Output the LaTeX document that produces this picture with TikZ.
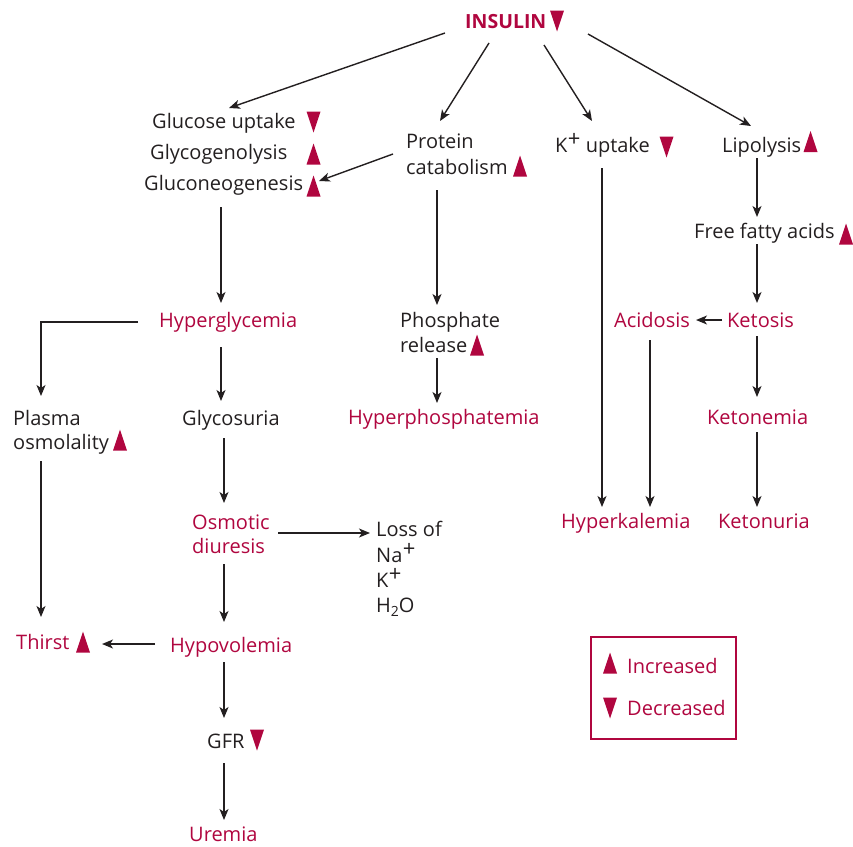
\documentclass[tikz,border=0pt]{standalone}
\usepackage{fontspec}
\setmainfont{Open Sans}
\usetikzlibrary{arrows.meta}
\definecolor{crim}{HTML}{B0063F}
\definecolor{ink}{HTML}{231F20}
\tikzset{
  txt/.style={anchor=base west, inner sep=0pt, text=ink, font=\fontsize{20}{24}\selectfont},
  rtxt/.style={txt, text=crim},
  arr/.style={draw=ink, line width=1.4pt, -{Stealth[length=11pt,width=9pt,inset=3pt]}},
  ln/.style={draw=ink, line width=1.4pt},
  pics/incr/.style={code={\fill[crim] (-7,10.5) -- (7,10.5) -- (0,-10.5) -- cycle;}},
  pics/decr/.style={code={\fill[crim] (-7,-10.5) -- (7,-10.5) -- (0,10.5) -- cycle;}}
}
\newcommand{\supplus}{\hspace{0.5pt}\raisebox{5.5pt}{\fontsize{22}{22}\selectfont +}}
\begin{document}
\begin{tikzpicture}[x=1pt,y=-1pt]
\useasboundingbox (0,0) rectangle (853,846);
% nodes
\node[rtxt, font=\fontsize{19.5}{24}\selectfont\bfseries] (ins) at (465,28) {INSULIN};
\node[txt] (gu) at (152,128) {Glucose uptake};
\node[txt] (gl) at (150,159) {Glycogenolysis};
\node[txt] (gn) at (144,190) {Gluconeogenesis};
\node[txt] (pr1) at (406,148) {Protein};
\node[txt] (pr2) at (406,174) {catabolism};
\node[txt] (ku) at (555,152) {K\supplus\ uptake};
\node[txt] (li) at (722,152) {Lipolysis};
\node[txt] (ffa) at (694,238) {Free fatty acids};
\node[rtxt] (hg) at (159,327) {Hyperglycemia};
\node[txt] (ph1) at (400,327) {Phosphate};
\node[txt] (ph2) at (400,352) {release};
\node[rtxt] (ac) at (614,327) {Acidosis};
\node[rtxt] (ke) at (727,327) {Ketosis};
\node[txt] (po1) at (13,425) {Plasma};
\node[txt] (po2) at (13,449) {osmolality};
\node[txt] (gs) at (182,425) {Glycosuria};
\node[rtxt] (hp) at (348,424) {Hyperphosphatemia};
\node[rtxt] (kn) at (707,424) {Ketonemia};
\node[rtxt] (od1) at (192,529) {Osmotic};
\node[rtxt] (od2) at (192,553) {diuresis};
\node[txt] (lo) at (376,536) {Loss of};
\node[txt] (na) at (376,562) {Na\supplus};
\node[txt] (kk) at (376,587) {K\supplus};
\node[txt] (hwo) at (376,612) {H\raisebox{-4pt}{\fontsize{14}{14}\selectfont 2}O};
\node[rtxt] (hk) at (561,528) {Hyperkalemia};
\node[rtxt] (kur) at (718,528) {Ketonuria};
\node[rtxt] (th) at (16,649) {Thirst};
\node[rtxt] (hv) at (170,652) {Hypovolemia};
\node[txt] (gfr) at (207,748) {GFR};
\node[rtxt] (ur) at (189,841) {Uremia};
% triangles
\pic at (557,21) {decr};
\pic at (313.5,122) {decr};
\pic at (313.5,154) {incr};
\pic at (313.5,186) {incr};
\pic at (520,166) {incr};
\pic at (666.5,147) {decr};
\pic at (810.5,141.5) {incr};
\pic at (846,234) {incr};
\pic at (120,440) {incr};
\pic at (477,345) {incr};
\pic at (83,642) {incr};
\pic at (257,740) {decr};
% legend
\node[draw=crim, line width=2pt, minimum width=145pt, minimum height=102pt, inner sep=0pt] (legend) at (663.5,688) {};
\pic at (610,663) {incr};
\pic at (610,708) {decr};
\node[rtxt] (inc) at (627,673) {Increased};
\node[rtxt] (dec) at (627,715) {Decreased};
% connectors
\draw[arr] ([shift={(-20,5)}]ins.base west) -- ([shift={(77,-20)}]gu.base west);
\draw[arr] ([shift={(24,15)}]ins.base west) -- ([shift={(34,-27)}]pr1.base west);
\draw[arr] ([shift={(79,17)}]ins.base west) -- ([shift={(37,-31)}]ku.base west);
\draw[arr] ([shift={(123,6)}]ins.base west) -- ([shift={(29,-26)}]li.base west);
\draw[arr] ([shift={(-13,6)}]pr1.base west) -- ([shift={(175,-9)}]gn.base west);
\draw[arr] ([shift={(77,17)}]gn.base west) -- ([shift={(62,-24)}]hg.base west);
\draw[arr] ([shift={(31,16)}]pr2.base west) -- ([shift={(37,-22)}]ph1.base west);
\draw[arr] ([shift={(47,16)}]ku.base west) -- ([shift={(41,-21)}]hk.base west);
\draw[arr] ([shift={(35,6)}]li.base west) -- ([shift={(63,-21)}]ffa.base west);
\draw[arr] ([shift={(63,6)}]ffa.base west) -- ([shift={(30,-24)}]ke.base west);
\draw[arr] ([shift={(-5,-7)}]ke.base west) -- ([shift={(82,-7)}]ac.base west);
\draw[arr] ([shift={(36,13)}]ac.base west) -- ([shift={(89,-21)}]hk.base west);
\draw[arr] ([shift={(30,9)}]ke.base west) -- ([shift={(50,-27)}]kn.base west);
\draw[arr] ([shift={(50,8)}]kn.base west) -- ([shift={(39,-21)}]kur.base west);
\draw[arr] ([shift={(-21,-5)}]hg.base west) -| ([shift={(28,-29)}]po1.base west);
\draw[arr] ([shift={(62,20)}]hg.base west) -- ([shift={(39,-24)}]gs.base west);
\draw[arr] ([shift={(37,6)}]ph2.base west) -- ([shift={(89,-21)}]hp.base west);
\draw[arr] ([shift={(28,12)}]po2.base west) -- ([shift={(25,-32)}]th.base west);
\draw[arr] ([shift={(42,13)}]gs.base west) -- ([shift={(32,-26)}]od1.base west);
\draw[arr] ([shift={(86,4)}]od1.base west) -- ([shift={(-6,-3)}]lo.base west);
\draw[arr] ([shift={(32,11)}]od2.base west) -- ([shift={(54,-30)}]hv.base west);
\draw[arr] ([shift={(-15,-8)}]hv.base west) -- ([shift={(86,-5)}]th.base west);
\draw[arr] ([shift={(54,10)}]hv.base west) -- ([shift={(17,-30)}]gfr.base west);
\draw[arr] ([shift={(17,15)}]gfr.base west) -- ([shift={(35,-21)}]ur.base west);
\end{tikzpicture}
\end{document}
